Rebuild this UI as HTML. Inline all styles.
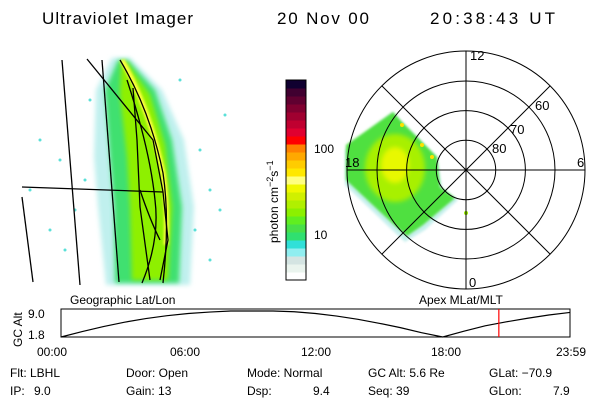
<!DOCTYPE html>
<html><head><meta charset="utf-8"><style>
html,body{margin:0;padding:0;background:#fff;}
svg{display:block;font-family:"Liberation Sans",sans-serif;}
</style></head><body>
<svg id="chart" width="600" height="400" viewBox="0 0 600 400">
<g font-size="17" fill="#000">
<text x="42" y="24" textLength="151">Ultraviolet Imager</text>
<text x="277" y="24" textLength="92">20 Nov 00</text>
<text x="430" y="24" textLength="125">20:38:43 UT</text>
</g>

<g>
<defs><filter id="bl" x="-20%" y="-20%" width="140%" height="140%"><feGaussianBlur stdDeviation="2.5"/></filter>
<filter id="bl2"><feGaussianBlur stdDeviation="1.2"/></filter></defs>
<path filter="url(#bl)" fill="#c0f0ee" d="M112,58 L130,58 L162,90 L184,140 L194,207 L190,285 L106,285 L98,207 L94,157 L96,90 Z"/>
<path filter="url(#bl)" fill="#40e070" d="M118,60 L128,60 L155,90 L172,140 L182,207 L179,283 L115,283 L114,207 L110,157 L105,90 Z"/>
<path filter="url(#bl)" fill="#8ef000" d="M121,62 L127,62 L150,95 L165,145 L172,207 L168,280 L132,280 L130,207 L127,157 L120,95 Z"/>
<path filter="url(#bl2)" fill="none" stroke="#ffff40" stroke-width="5" d="M122,60 Q150,110 163,173 Q168,210 166,245"/>
<g fill="#5ae0d8">
<circle cx="40" cy="140" r="1.5"/><circle cx="60" cy="160" r="1.5"/><circle cx="30" cy="190" r="1.5"/><circle cx="75" cy="210" r="1.5"/><circle cx="200" cy="150" r="1.5"/><circle cx="210" cy="190" r="1.5"/><circle cx="225" cy="115" r="1.5"/><circle cx="195" cy="230" r="1.5"/><circle cx="220" cy="210" r="1.5"/><circle cx="65" cy="250" r="1.5"/><circle cx="90" cy="100" r="1.5"/><circle cx="180" cy="80" r="1.5"/><circle cx="210" cy="260" r="1.5"/><circle cx="50" cy="230" r="1.5"/><circle cx="85" cy="180" r="1.5"/>
</g>
<g fill="none" stroke="#000" stroke-width="1.3">
<path d="M62,60 L80,285"/><path d="M102,60 L119,282"/><path d="M22,197 L33,282"/><path d="M22,187 L163,192"/>
<path d="M87,59 L153,140 L163,192 L168,240 L160,280"/>
<path d="M120,60 Q150,110 163,173 Q170,220 163,283"/>
<path d="M133,88 L137,140 L140,207 L150,280"/>
<path d="M127,80 Q150,150 155,200 Q160,240 142,283"/>
<path d="M140,190 Q150,220 160,240"/>
</g>
</g>

<g id="cbar"></g>
<g font-size="12">
<text x="314" y="153">100</text>
<text x="314" y="239">10</text>
<text transform="translate(278,243) rotate(-90)" font-size="12">photon cm<tspan dy="-5" font-size="9">−2</tspan><tspan dy="5">s</tspan><tspan dy="-5" font-size="9">−1</tspan></text>
</g>

<g>
<path filter="url(#bl2)" fill="#c8f0ee" d="M345,150 L393,112 L400,120 L437,157 L442,188 L458,200 L425,230 L405,242 L390,228 L345,185 Z"/>
<path filter="url(#bl2)" fill="#50e040" d="M346,145 L393,112 L400,120 L437,157 L440,187 L455,198 L423,225 L407,236 L393,224 L346,180 Z"/>
<ellipse filter="url(#bl)" cx="395" cy="168" rx="30" ry="34" fill="#a8f000"/>
<ellipse filter="url(#bl)" cx="395" cy="165" rx="14" ry="18" fill="#e8f800"/>
<g fill="#ffe000"><circle cx="402" cy="125" r="2"/><circle cx="422" cy="145" r="2"/><circle cx="432" cy="157" r="2"/><circle cx="466" cy="213" r="2" fill="#9af000"/></g>
<g fill="none" stroke="#000" stroke-width="1">
<circle cx="466" cy="170" r="29.7"/><circle cx="466" cy="170" r="59.4"/><circle cx="466" cy="170" r="89"/><circle cx="466" cy="170" r="119"/>
<line x1="466" y1="51" x2="466" y2="289"/><line x1="347" y1="170" x2="585" y2="170"/>
<line x1="382" y1="86" x2="550" y2="254"/><line x1="550" y1="86" x2="382" y2="254"/>
</g>
<g font-size="13" fill="#000">
<text x="470" y="60">12</text>
<text x="345" y="167">18</text>
<text x="577" y="167">6</text>
<text x="469" y="287">0</text>
<text x="535" y="110">60</text>
<text x="510" y="134">70</text>
<text x="492" y="153">80</text>
</g>
</g>

<g font-size="12">
<text x="70" y="304">Geographic Lat/Lon</text>
<text x="419" y="304">Apex MLat/MLT</text>
</g>

<g id="alt">
<rect x="61" y="309" width="509" height="28" fill="none" stroke="#000" stroke-width="1"/>
<text transform="translate(22,347) rotate(-90)" font-size="12">GC Alt</text>
<text x="28" y="318" font-size="12">9.0</text>
<text x="28" y="339" font-size="12">1.8</text>
</g>

<g font-size="12">
<text x="37" y="356">00:00</text>
<text x="170" y="356">06:00</text>
<text x="301" y="356">12:00</text>
<text x="431" y="356">18:00</text>
<text x="556" y="356">23:59</text>
</g>

<g font-size="12">
<text x="10" y="377">Flt: LBHL</text>
<text x="126" y="377">Door: Open</text>
<text x="247" y="377">Mode: Normal</text>
<text x="368" y="377">GC Alt: 5.6 Re</text>
<text x="489" y="377">GLat: −70.9</text>
<text x="10" y="395">IP:</text>
<text x="34" y="395">9.0</text>
<text x="126" y="395">Gain: 13</text>
<text x="247" y="395">Dsp:</text>
<text x="313" y="395">9.4</text>
<text x="368" y="395">Seq: 39</text>
<text x="489" y="395">GLon:</text>
<text x="553" y="395">7.9</text>
</g>
</svg>
<script>
const cbarColors = ["#ffffff","#eaf4ee","#d4e4e2","#90eef0","#30e0d8","#30e070","#48e048","#60ee20","#8cf000","#b0f000","#d0f000","#f0f800","#ffff80","#ffe800","#ffcc00","#ffa800","#ff8000","#ff0000","#e00030","#c00030","#a00030","#800030","#600030","#400030","#100030"];
const altHours = [0,1,2,3,4,5,6,7,8,9,10,11,12,13,14,15,16,17,18,19,20,21,22,23,24];
const altValues = [1.8,3.3,4.7,5.9,6.9,7.7,8.3,8.7,9.0,9.0,9.0,8.8,8.3,7.6,6.7,5.6,4.4,3.0,1.8,3.4,4.9,6.0,7.0,7.9,8.6];
const currentHour = 20.645;
const NS = "http://www.w3.org/2000/svg";
const xT = h => 61 + h / 24 * 509;
const yA = v => 337 - (v - 1.8) / (9.0 - 1.8) * 26;

const cbar = document.getElementById("cbar");
const segH = 200 / cbarColors.length;
cbarColors.forEach((c, i) => {
  const r = document.createElementNS(NS, "rect");
  r.setAttribute("x", 286); r.setAttribute("width", 20);
  r.setAttribute("y", 280 - (i + 1) * segH); r.setAttribute("height", segH + 0.5);
  r.setAttribute("fill", c);
  
  
  cbar.appendChild(r);
});
const fr = document.createElementNS(NS, "rect");
fr.setAttribute("x", 286); fr.setAttribute("y", 80); fr.setAttribute("width", 20); fr.setAttribute("height", 200);
fr.setAttribute("fill", "none"); fr.setAttribute("stroke", "#000");


cbar.appendChild(fr);

const alt = document.getElementById("alt");
const line = document.createElementNS(NS, "polyline");
line.setAttribute("points", altHours.map((h, i) => xT(h) + "," + yA(altValues[i])).join(" "));
line.setAttribute("fill", "none"); line.setAttribute("stroke", "#000"); line.setAttribute("stroke-width", "1.2");


alt.appendChild(line);
const red = document.createElementNS(NS, "line");
red.setAttribute("x1", xT(currentHour)); red.setAttribute("x2", xT(currentHour));
red.setAttribute("y1", 309); red.setAttribute("y2", 337);
red.setAttribute("stroke", "#ff0000"); red.setAttribute("stroke-width", "1.2");


alt.appendChild(red);
</script>
</body></html>
